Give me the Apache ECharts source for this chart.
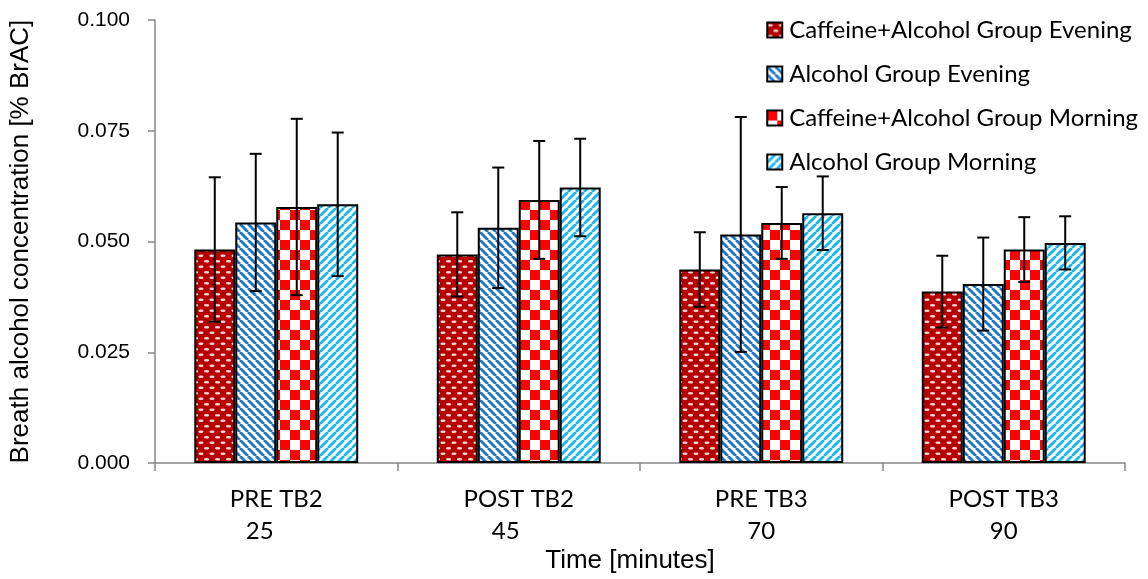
<!DOCTYPE html>
<html>
<head>
<meta charset="utf-8">
<script src="https://cdn.jsdelivr.net/npm/echarts@6/dist/echarts.min.js"></script>
<style>
  html, body { margin: 0; padding: 0; background: #fff; }
  #chart { width: 1148px; height: 579px; }
</style>
</head>
<body>
<div id="chart"></div>
<script>
// Time points (category label, minutes)
const categories = ['PRE TB2', 'POST TB2', 'PRE TB3', 'POST TB3'];
const minutes = ['25', '45', '70', '90'];

// Series names
const seriesNames = [
  'Caffeine+Alcohol Group Evening',
  'Alcohol Group Evening',
  'Caffeine+Alcohol Group Morning',
  'Alcohol Group Morning'
];

// Mean breath alcohol concentration (% BrAC)
const caffeineEvening = [0.0482, 0.0471, 0.0437, 0.0387];
const alcoholEvening  = [0.0543, 0.0531, 0.0516, 0.0404];
const caffeineMorning = [0.0578, 0.0594, 0.0542, 0.0482];
const alcoholMorning  = [0.0584, 0.0622, 0.0564, 0.0497];

// Standard deviations (error bars)
const caffeineEveningSD = [0.0163, 0.0095, 0.0084, 0.0081];
const alcoholEveningSD  = [0.0155, 0.0136, 0.0265, 0.0105];
const caffeineMorningSD = [0.0199, 0.0133, 0.0081, 0.0073];
const alcoholMorningSD  = [0.0162, 0.0110, 0.0083, 0.0060];

// Y axis ticks
const yMin = 0, yMax = 0.1, yStep = 0.025;

const means = [caffeineEvening, alcoholEvening, caffeineMorning, alcoholMorning];
const sds = [caffeineEveningSD, alcoholEveningSD, caffeineMorningSD, alcoholMorningSD];

// ---- fill patterns ----
function tile(w, h, draw) {
  const c = document.createElement('canvas');
  c.width = w; c.height = h;
  const g = c.getContext('2d');
  draw(g, w, h);
  return c;
}
// dark red with small white dashes
const dotPattern = tile(11, 11, (g, w, h) => {
  g.fillStyle = '#B40000'; g.fillRect(0, 0, w, h);
  g.fillStyle = '#F6D6D6';
  [[3, 2.8], [8.5, 8.3], [-2.5, 8.3], [13.5, 2.8]].forEach(([x, y]) => {
    g.beginPath(); g.ellipse(x, y, 2.6, 1.3, 0, 0, Math.PI * 2); g.fill();
  });
});
// diagonal stripes
function stripes(color, dir) {
  return tile(8, 8, (g, w, h) => {
    g.fillStyle = '#ffffff'; g.fillRect(0, 0, w, h);
    g.strokeStyle = color; g.lineWidth = 2.8;
    for (let k = -2; k <= 2; k++) {
      g.beginPath();
      if (dir > 0) { g.moveTo(k * w, 0); g.lineTo(k * w + w, h); }
      else { g.moveTo(k * w + w, 0); g.lineTo(k * w, h); }
      g.stroke();
    }
  });
}
const blueStripe = stripes('#1F77C4', 1);
const skyStripe = stripes('#1CB6EA', -1);
// red and white checks
const checkPattern = tile(20, 20, (g, w, h) => {
  g.fillStyle = '#ffffff'; g.fillRect(0, 0, w, h);
  g.fillStyle = '#FF0000';
  g.fillRect(0, 0, 10, 10); g.fillRect(10, 10, 10, 10);
});
const fills = [dotPattern, blueStripe, checkPattern, skyStripe];

const catGap = 0.324;
const seriesCount = seriesNames.length;

const barSeries = seriesNames.map((name, i) => ({
  name: name,
  type: 'bar',
  data: means[i],
  barGap: '0%',
  barCategoryGap: (catGap * 100) + '%',
  itemStyle: {
    color: { image: fills[i], repeat: 'repeat' },
    borderColor: '#000',
    borderWidth: 2
  },
  emphasis: { disabled: true },
  z: 2
}));

// error bars drawn over the bars
const errorSeries = {
  type: 'custom',
  name: 'sd',
  z: 5,
  silent: true,
  data: (() => {
    const out = [];
    for (let s = 0; s < seriesCount; s++)
      for (let c = 0; c < categories.length; c++)
        out.push([c, means[s][c], sds[s][c], s]);
    return out;
  })(),
  encode: { x: 0, y: 1 },
  renderItem: function (params, api) {
    const c = api.value(0), m = api.value(1), sd = api.value(2), s = api.value(3);
    const band = api.size([1, 0])[0];
    const groupW = band * (1 - catGap);
    const barW = groupW / seriesCount;
    const center = api.coord([c, m])[0];
    const x = center - groupW / 2 + barW * (s + 0.5);
    const yTop = api.coord([c, m + sd])[1];
    const yBot = api.coord([c, m - sd])[1];
    const cap = 6;
    const st = { stroke: '#000', lineWidth: 2 };
    return {
      type: 'group',
      children: [
        { type: 'line', shape: { x1: x, y1: yTop, x2: x, y2: yBot }, style: st },
        { type: 'line', shape: { x1: x - cap, y1: yTop, x2: x + cap, y2: yTop }, style: st },
        { type: 'line', shape: { x1: x - cap, y1: yBot, x2: x + cap, y2: yBot }, style: st }
      ]
    };
  }
};

// small horizontal nudges of the minute labels
const minuteShift = [33, 26, 0, 0];
const richStyles = {
  cat: { fontFamily: 'Lato', fontSize: 24, color: '#000', lineHeight: 32 }
};
minutes.forEach((m, i) => {
  richStyles['m' + i] = {
    fontFamily: 'Lato', fontSize: 24, color: '#000', lineHeight: 32,
    padding: [0, minuteShift[i], 0, 0]
  };
});

const chart = echarts.init(document.getElementById('chart'), null, { renderer: 'canvas' });
chart.setOption({
  animation: false,
  backgroundColor: '#ffffff',
  grid: { left: 155, right: 23, top: 20, bottom: 94 },
  legend: {
    data: seriesNames,
    orient: 'vertical',
    right: 5,
    top: 10,
    itemWidth: 15,
    itemHeight: 15,
    itemGap: 14,
    icon: 'rect',
    textStyle: { fontFamily: 'Lato', fontSize: 24, color: '#000', lineHeight: 30, padding: [0, 0, 0, 2] },
    selectedMode: false
  },
  xAxis: {
    type: 'category',
    data: categories,
    axisLine: { lineStyle: { color: '#868686', width: 1.5 } },
    axisTick: { show: true, length: 8, lineStyle: { color: '#868686', width: 1.5 } },
    axisLabel: {
      margin: 20,
      formatter: function (value, idx) {
        return '{cat|' + value + '}\n{m' + idx + '|' + minutes[idx] + '}';
      },
      rich: richStyles
    },
    name: 'Time [minutes]',
    nameLocation: 'middle',
    nameGap: 68,
    nameTextStyle: { fontFamily: 'Liberation Sans', fontSize: 26, color: '#000', padding: [0, 0, 0, -20] }
  },
  yAxis: {
    type: 'value',
    min: yMin,
    max: yMax,
    interval: yStep,
    splitLine: { show: false },
    axisLine: { show: true, lineStyle: { color: '#868686', width: 1.5 } },
    axisTick: { show: true, length: 7, lineStyle: { color: '#868686', width: 1.5 } },
    axisLabel: {
      margin: 25,
      fontFamily: 'Liberation Sans',
      fontSize: 21,
      color: '#000',
      formatter: v => v.toFixed(3)
    },
    name: 'Breath alcohol concentration [% BrAC]',
    nameLocation: 'middle',
    nameRotate: 90,
    nameGap: 121,
    nameTextStyle: { fontFamily: 'Liberation Sans', fontSize: 26, color: '#000' }
  },
  series: barSeries.concat([errorSeries])
});
</script>
</body>
</html>
